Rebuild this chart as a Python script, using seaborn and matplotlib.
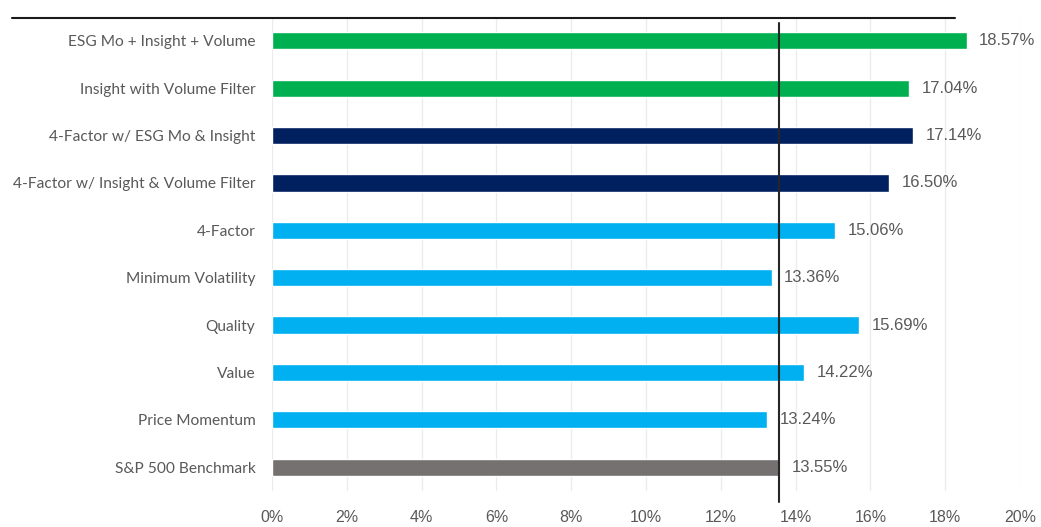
import matplotlib
matplotlib.use("Agg")
import matplotlib.pyplot as plt
from matplotlib.lines import Line2D
from matplotlib.ticker import FuncFormatter
import seaborn as sns
import pandas as pd

categories = [
    "ESG Mo + Insight + Volume",
    "Insight with Volume Filter",
    "4-Factor w/ ESG Mo & Insight",
    "4-Factor w/ Insight & Volume Filter",
    "4-Factor",
    "Minimum Volatility",
    "Quality",
    "Value",
    "Price Momentum",
    "S&P 500 Benchmark",
]
values = [18.57, 17.04, 17.14, 16.50, 15.06, 13.36, 15.69, 14.22, 13.24, 13.55]
groups = ["ESG", "ESG", "Combo", "Combo", "Factor", "Factor", "Factor", "Factor", "Factor", "Bench"]
group_colors = {"ESG": "#00B050", "Combo": "#002060", "Factor": "#00B0F0", "Bench": "#767171"}
benchmark = 13.55
xticks = [0, 2, 4, 6, 8, 10, 12, 14, 16, 18, 20]

df = pd.DataFrame({"category": categories, "value": values, "group": groups})
palette = {c: group_colors[g] for c, g in zip(categories, groups)}

sns.set_theme(style="white")
plt.rcParams["font.family"] = ["Liberation Sans", "DejaVu Sans"]

fig = plt.figure(figsize=(10.41, 5.27), dpi=100)
ax = fig.add_axes([272 / 1041, 1 - 490.7 / 527, (1020 - 272) / 1041, (490.7 - 17.3) / 527])

sns.barplot(data=df, y="category", x="value", hue="category", palette=palette,
            order=categories, orient="h", width=0.36, legend=False, ax=ax,
            saturation=1, zorder=2)

ax.set_xlim(0, 20)
ax.set_ylim(9.5, -0.5)
ax.set_xticks(xticks)
ax.xaxis.set_major_formatter(FuncFormatter(lambda v, p: f"{v:.0f}%"))
ax.grid(axis="x", color="#EBEBEB", linewidth=0.9, zorder=0)
ax.set_axisbelow(True)
for s in ax.spines.values():
    s.set_visible(False)
ax.set_xlabel("")
ax.set_ylabel("")
ax.tick_params(axis="x", length=0, pad=14, labelsize=11.5, labelcolor="#595959")
ax.tick_params(axis="y", length=0, pad=12)
for lbl in ax.get_yticklabels():
    lbl.set_fontfamily(["Lato", "DejaVu Sans"])
    lbl.set_fontsize(11.2)
    lbl.set_color("#595959")

for i, v in enumerate(values):
    ax.annotate(f"{v:.2f}%", xy=(v, i), xytext=(9, 0), textcoords="offset points",
                ha="left", va="center", fontsize=12, color="#595959")

ax.axvline(benchmark, ymin=-0.024, ymax=0.988, color="#262626", linewidth=1.5,
           clip_on=False, zorder=5)

fig.add_artist(Line2D([12 / 1041, 955 / 1041], [1 - 18 / 527, 1 - 18 / 527],
                      color="#1a1a1a", linewidth=1.5))

fig.savefig("out.png", dpi=100)
